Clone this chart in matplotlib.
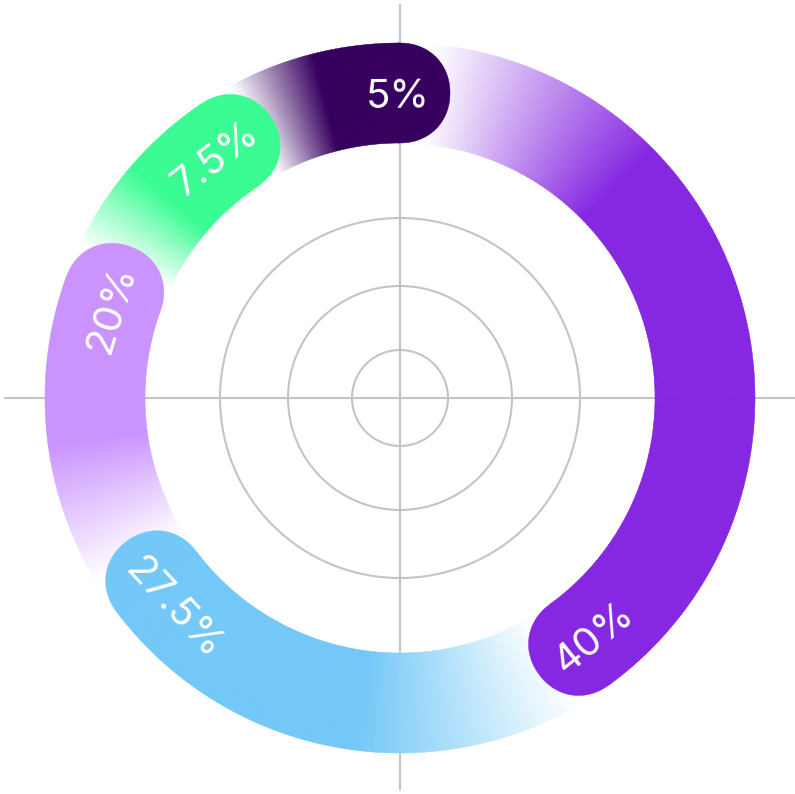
import numpy as np
import matplotlib
matplotlib.use('Agg')
import matplotlib.pyplot as plt
from matplotlib.collections import PolyCollection
from matplotlib.patches import Polygon, Circle
from matplotlib.textpath import TextPath
from matplotlib.font_manager import FontProperties
from matplotlib.colors import to_rgb

# data, in drawing order (clockwise from 12 o'clock)
labels = ['40%', '27.5%', '20%', '7.5%', '5%']
values = [40, 27.5, 20, 7.5, 5]
# arc each slice takes in the picture, degrees (not proportional to values)
arc_deg = [144, 89, 57, 36, 34]
colors = ['#8628E1', '#74C8F7', '#CA93FE', '#3AFC93', '#37005F']

grid_r = [48, 112, 180]

W, H, DPI = 795, 794, 100
fig = plt.figure(figsize=(W / DPI, H / DPI), dpi=DPI)
ax = fig.add_axes([0, 0, 1, 1])
ax.set_xlim(-400, 395)
ax.set_ylim(-396, 398)
ax.axis('off')

r_in, r_out = 255, 355
r_mid = (r_in + r_out) / 2
half = (r_out - r_in) / 2
cap_deg = np.degrees(half / r_mid)


def pt(r, th):
    t = np.radians(th)
    return r * np.sin(t), r * np.cos(t)


# background grid
gc = '#C4C4C4'
ax.plot([-395, 395], [0, 0], color=gc, lw=1.5, zorder=1)
ax.plot([0, 0], [-391, 393], color=gc, lw=1.5, zorder=1)
for r in grid_r:
    ax.add_patch(Circle((0, 0), r, fill=False, ec=gc, lw=1.5, zorder=1))

# ring bodies with a fade-in from white
polys, fcs = [], []
ends = []
start = 0
for a, c in zip(arc_deg, colors):
    end = start + a
    g0 = start + 0.6 * cap_deg
    g1 = g0 + min(0.42 * a, 40)
    rgb = np.array(to_rgb(c))
    for s in np.arange(start, end, 0.5):
        e = min(s + 0.6, end)
        k = np.clip((s + 0.25 - g0) / (g1 - g0), 0, 1)
        col = 1 - k * (1 - rgb)
        th = np.linspace(s, e, 3)
        outer = [pt(r_out, t) for t in th]
        inner = [pt(r_in, t) for t in th[::-1]]
        polys.append(outer + inner)
        fcs.append(col)
    ends.append(end)
    start = end
ax.add_collection(PolyCollection(polys, facecolors=fcs, edgecolors=fcs,
                                 linewidths=0.3, zorder=2))

# rounded caps at the end of each slice
n = 2.1
for end, c in zip(ends, colors):
    t = np.radians(end)
    cx, cy = pt(r_mid, end)
    u = np.array([np.sin(t), np.cos(t)])
    tg = np.array([np.cos(t), -np.sin(t)])
    phi = np.linspace(0, np.pi, 80)
    cu = np.sign(np.cos(phi)) * np.abs(np.cos(phi)) ** (2 / n)
    su = np.abs(np.sin(phi)) ** (2 / n)
    pts = [(cx + half * (a * u[0] + b * tg[0]), cy + half * (a * u[1] + b * tg[1]))
           for a, b in zip(cu, su)]
    pts += [pt(r_in, end - 0.4), pt(r_out, end - 0.4)]
    ax.add_patch(Polygon(pts, closed=True, fc=c, ec=c, lw=0.3, zorder=3))

# labels along the ring, next to the cap
fp = FontProperties(family=['Inter', 'DejaVu Sans'], weight='normal', size=29)
gap = 24
for lab, end in zip(labels, ends):
    ext = TextPath((0, 0), lab, prop=fp).get_extents()
    w = ext.width * DPI / 72
    mid_h = (ext.y0 + ext.y1) / 2 * DPI / 72
    th = end + np.degrees((half - gap - w / 2) / r_mid)
    x, y = pt(r_mid, th)
    rot = (-th) % 360
    if 90 < rot < 270:
        rot -= 180
    up = np.array([-np.sin(np.radians(rot)), np.cos(np.radians(rot))])
    bx, by = x - mid_h * up[0], y - mid_h * up[1]
    ax.text(bx, by, lab, fontproperties=fp, color='white', rotation=rot,
            rotation_mode='anchor', ha='center', va='baseline', zorder=4)

fig.savefig('out.png', dpi=DPI, facecolor='white')
